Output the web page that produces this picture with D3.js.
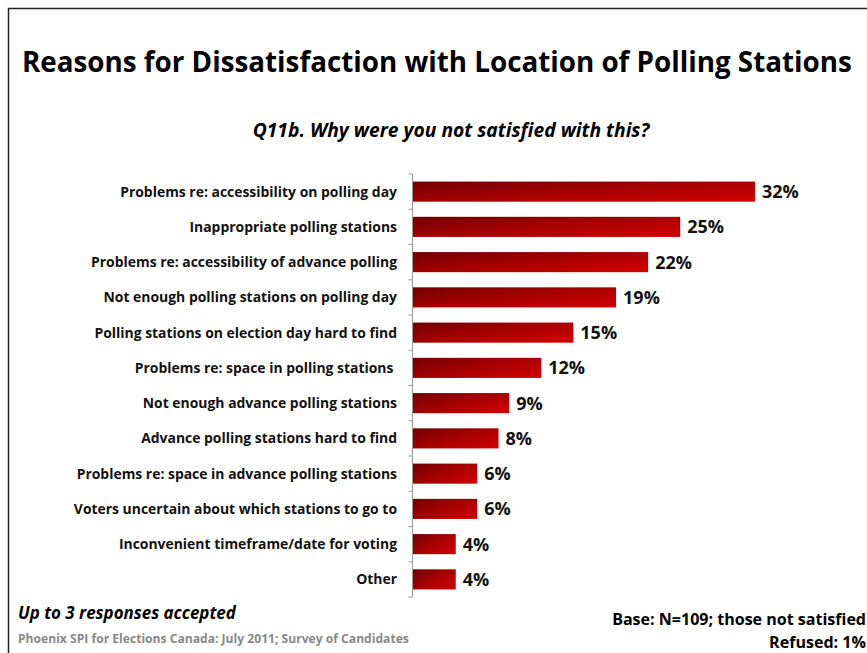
<!DOCTYPE html>
<html>
<head>
<meta charset="utf-8">
<script src="https://cdn.jsdelivr.net/npm/d3@7"></script>
<style>
  html, body { margin: 0; padding: 0; background: #fff; }
  svg { display: block; }
  text { font-family: "Liberation Sans Narrow", "Open Sans", "Noto Sans", sans-serif; }
</style>
</head>
<body>
<svg id="chart" width="867" height="653"></svg>
<script>
const categories = [
  "Problems re: accessibility on polling day",
  "Inappropriate polling stations",
  "Problems re: accessibility of advance polling",
  "Not enough polling stations on polling day",
  "Polling stations on election day hard to find",
  "Problems re: space in polling stations ",
  "Not enough advance polling stations",
  "Advance polling stations hard to find",
  "Problems re: space in advance polling stations",
  "Voters uncertain about which stations to go to",
  "Inconvenient timeframe/date for voting",
  "Other"
];
const values = [32, 25, 22, 19, 15, 12, 9, 8, 6, 6, 4, 4];

const titleText = "Reasons for Dissatisfaction with Location of Polling Stations";
const subtitleText = "Q11b. Why were you not satisfied with this?";
const noteText = "Up to 3 responses accepted";
const sourceText = "Phoenix SPI for Elections Canada: July 2011; Survey of Candidates";
const baseText = "Base: N=109; those not satisfied";
const refusedText = "Refused: 1%";

const svg = d3.select("#chart");

// Fit a text element to a target width by adjusting its font size
function fitWidth(sel, target) {
  const w = sel.node().getComputedTextLength();
  const fs = parseFloat(sel.attr("font-size"));
  if (w > 0) sel.attr("font-size", (fs * target / w).toFixed(2));
  return sel;
}

// Slide frame: top and left rules
svg.append("path")
  .attr("d", "M8.5,653 L8.5,8.5 L867,8.5")
  .attr("fill", "none").attr("stroke", "#222").attr("stroke-width", 1.5);

// Title
fitWidth(svg.append("text")
  .attr("x", 22).attr("y", 72)
  .attr("font-size", 28).attr("font-weight", "bold").attr("fill", "#000")
  .text(titleText), 830);

// Question
const sub = svg.append("text")
  .attr("x", 451).attr("y", 137).attr("text-anchor", "middle")
  .attr("font-size", 17).attr("font-weight", "bold").attr("font-style", "italic")
  .attr("fill", "#000").text(subtitleText);
fitWidth(sub, 397);

// Scales
const y = d3.scaleBand()
  .domain(categories)
  .range([174, 597])
  .paddingInner(0.43)
  .paddingOuter(0.215);

const x = d3.scaleLinear().domain([0, 32]).range([413, 755]);

// Bar gradient
const defs = svg.append("defs");
const grad = defs.append("linearGradient")
  .attr("id", "barGrad")
  .attr("x1", 0).attr("y1", 0.1).attr("x2", 1).attr("y2", 0.9);
grad.append("stop").attr("offset", "0%").attr("stop-color", "#760000");
grad.append("stop").attr("offset", "45%").attr("stop-color", "#a30000");
grad.append("stop").attr("offset", "100%").attr("stop-color", "#cf0000");

// Bars
svg.append("g").selectAll("rect")
  .data(values)
  .join("rect")
  .attr("x", x(0))
  .attr("y", (d, i) => y(categories[i]))
  .attr("width", d => x(d) - x(0))
  .attr("height", y.bandwidth())
  .attr("fill", "url(#barGrad)");

// Value labels
svg.append("g").selectAll("text")
  .data(values)
  .join("text")
  .attr("x", d => x(d) + 7)
  .attr("y", (d, i) => y(categories[i]) + y.bandwidth() / 2)
  .attr("dy", "0.36em")
  .attr("font-size", 18).attr("font-weight", "bold").attr("fill", "#111")
  .text(d => d + "%");

// Category axis
const step = y.step();
const axisG = svg.append("g").attr("transform", `translate(${x(0) - 0.5},0)`);
axisG.append("line")
  .attr("x1", 0).attr("x2", 0).attr("y1", 174).attr("y2", 597)
  .attr("stroke", "#999").attr("stroke-width", 1);
axisG.selectAll("line.tick")
  .data(d3.range(categories.length + 1))
  .join("line").attr("class", "tick")
  .attr("x1", -4).attr("x2", 0)
  .attr("y1", i => 174 + i * step).attr("y2", i => 174 + i * step)
  .attr("stroke", "#999").attr("stroke-width", 1);

// Category labels
const catLabels = svg.append("g").selectAll("text")
  .data(categories)
  .join("text")
  .attr("x", 397)
  .attr("y", d => y(d) + y.bandwidth() / 2)
  .attr("dy", "0.36em")
  .attr("text-anchor", "end")
  .attr("font-size", 14).attr("font-weight", "bold").attr("fill", "#111")
  .attr("xml:space", "preserve")
  .text(d => d);
// scale label font so the first label spans its measured width
{
  const n = catLabels.nodes()[0];
  const w = n.getComputedTextLength();
  const fs = 14 * 277 / w;
  catLabels.attr("font-size", fs.toFixed(2));
}

// Footnotes
fitWidth(svg.append("text")
  .attr("x", 18).attr("y", 619)
  .attr("font-size", 17).attr("font-weight", "bold").attr("font-style", "italic")
  .attr("fill", "#000").text(noteText), 218);

fitWidth(svg.append("text")
  .attr("x", 18).attr("y", 643)
  .attr("font-size", 11).attr("font-weight", "bold")
  .attr("fill", "#888").text(sourceText), 391);

fitWidth(svg.append("text")
  .attr("x", 866).attr("y", 625).attr("text-anchor", "end")
  .attr("font-size", 15).attr("font-weight", "bold")
  .attr("fill", "#000").text(baseText), 254);

fitWidth(svg.append("text")
  .attr("x", 866).attr("y", 648).attr("text-anchor", "end")
  .attr("font-size", 15).attr("font-weight", "bold")
  .attr("fill", "#000").text(refusedText), 97);
</script>
</body>
</html>
